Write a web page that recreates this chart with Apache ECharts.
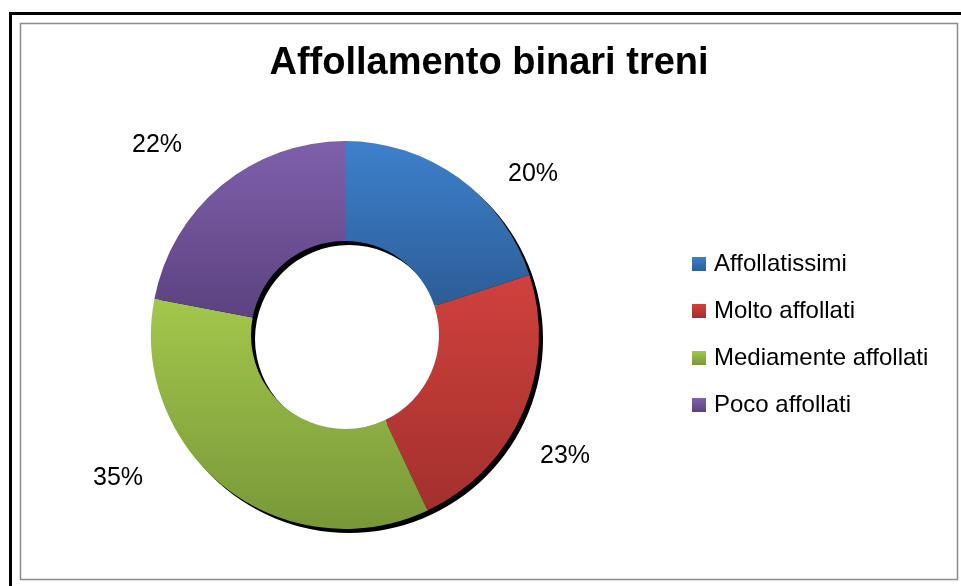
<!DOCTYPE html>
<html>
<head>
<meta charset="utf-8">
<script src="https://cdn.jsdelivr.net/npm/echarts@6/dist/echarts.min.js"></script>
<style>
  html, body { margin: 0; padding: 0; background: #fff; }
  #chart { width: 961px; height: 586px; }
</style>
</head>
<body>
<div id="chart"></div>
<script>
// dati
var categories = ['Affollatissimi', 'Molto affollati', 'Mediamente affollati', 'Poco affollati'];
var percentages = [20, 23, 35, 22];

// gradienti (alto -> basso) per ogni fetta
var sliceColors = [
    ['#3d80cc', '#2c5d96'],
    ['#d0413d', '#a3302d'],
    ['#a3c74c', '#789839'],
    ['#7f60ac', '#5c4280']
];
// posizione delle etichette percentuali
var labelPos = [[533, 174], [565, 456], [118, 478], [157, 145]];

var chart = echarts.init(document.getElementById('chart'));

function grad(c) {
    return new echarts.graphic.LinearGradient(0, 0, 0, 1, [
        {offset: 0, color: c[0]},
        {offset: 1, color: c[1]}
    ]);
}

var pieData = categories.map(function (name, i) {
    return {name: name, value: percentages[i], itemStyle: {color: grad(sliceColors[i])}};
});

var option = {
    animation: false,
    backgroundColor: '#fff',
    graphic: [
        {type: 'rect', silent: true, z: -10,
            shape: {x: 10.5, y: 13.5, width: 1000, height: 1000},
            style: {fill: 'none', stroke: '#000', lineWidth: 3}},
        {type: 'rect', silent: true, z: -10,
            shape: {x: 20.5, y: 23.5, width: 937, height: 556},
            style: {fill: '#fff', stroke: '#8c8c8c', lineWidth: 1.5}}
    ],
    title: {
        text: 'Affollamento binari treni',
        left: 489,
        top: 45,
        padding: 0,
        textAlign: 'center',
        textStyle: {
            fontFamily: 'Liberation Sans',
            fontWeight: 'bold',
            fontSize: 38,
            lineHeight: 38,
            color: '#000'
        }
    },
    legend: {
        orient: 'vertical',
        left: 692,
        top: 252,
        padding: 0,
        itemWidth: 14,
        itemHeight: 14,
        itemGap: 23,
        icon: 'rect',
        data: categories,
        textStyle: {
            fontFamily: 'Liberation Sans',
            fontSize: 24,
            lineHeight: 24,
            color: '#000',
            padding: [0, 0, 0, 3]
        }
    },
    series: [
        {
            // ombra dell'anello
            type: 'pie',
            silent: true,
            z: 1,
            center: [349, 339],
            radius: [94, 194],
            label: {show: false},
            labelLine: {show: false},
            itemStyle: {color: '#000'},
            data: [{name: 'ombra', value: 1}],
            legendHoverLink: false
        },
        {
            type: 'pie',
            z: 2,
            center: [345, 335],
            radius: [94, 194],
            startAngle: 90,
            clockwise: true,
            data: pieData,
            label: {
                show: true,
                position: 'outside',
                formatter: '{c}%',
                fontFamily: 'Liberation Sans',
                fontSize: 25,
                color: '#000'
            },
            labelLine: {show: false},
            labelLayout: function (params) {
                var p = labelPos[params.dataIndex];
                return {x: p[0], y: p[1], align: 'center', verticalAlign: 'middle'};
            },
            emphasis: {disabled: true}
        }
    ]
};

chart.setOption(option);
</script>
</body>
</html>
